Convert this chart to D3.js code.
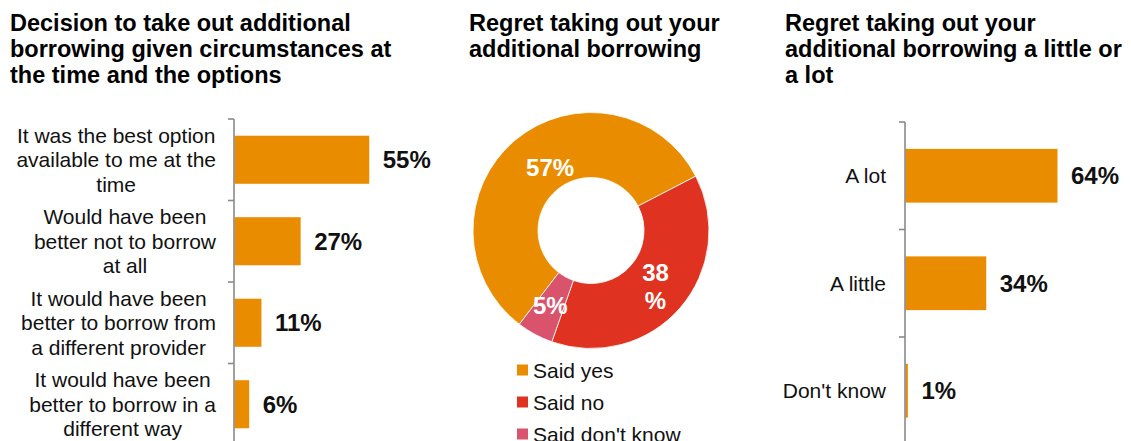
<!DOCTYPE html>
<html>
<head>
<meta charset="utf-8">
<script src="https://cdn.jsdelivr.net/npm/d3@7"></script>
<style>
  html, body { margin: 0; padding: 0; background: #ffffff; }
  svg { display: block; font-family: "Liberation Sans", Arial, sans-serif; }
</style>
</head>
<body>
<svg id="chart" width="1131" height="441"></svg>
<script>
// ---- Data ----
const decisionCategories = [
  "It was the best option\navailable to me at the\ntime",
  "Would have been\nbetter not to borrow\nat all",
  "It would have been\nbetter to borrow from\na different provider",
  "It would have been\nbetter to borrow in a\ndifferent way"
];
const decisionValues = [55, 27, 11, 6];

const regretCategories = ["Said yes", "Said no", "Said don't know"];
const regretValues = [57, 38, 5];
const regretLabels = ["57%", "38\n%", "5%"];

const degreeCategories = ["A lot", "A little", "Don't know"];
const degreeValues = [64, 34, 1];

const titles = [
  "Decision to take out additional\nborrowing given circumstances at\nthe time and the options",
  "Regret taking out your\nadditional borrowing",
  "Regret taking out your\nadditional borrowing a little or\na lot"
];

// ---- Styling ----
const ORANGE = "#EA8C00";
const RED = "#DF3220";
const PINK = "#D9536C";
const AXIS = "#8a8a8a";
const TEXT = "#111111";

const svg = d3.select("#chart");

// Multi-line text helper
function multiline(sel, text, lineH) {
  text.split("\n").forEach((ln, i) => {
    sel.append("tspan").attr("x", sel.attr("x")).attr("dy", i === 0 ? 0 : lineH).text(ln);
  });
}

// ---- Panel titles ----
const titleX = [10, 469, 785];
titles.forEach((t, i) => {
  const el = svg.append("text")
    .attr("x", titleX[i]).attr("y", 31)
    .attr("font-size", 23.5).attr("font-weight", "bold").attr("fill", "#000");
  multiline(el, t, 25.8);
});

// ---- Horizontal bar panel (generic) ----
function barPanel(opts) {
  const { cats, vals, top, bottom, axisX, pxPerPct, pad, labelRight, lineH, align } = opts;
  const g = svg.append("g");
  const yBand = d3.scaleBand().domain(cats).range([top, bottom])
    .paddingInner(pad).paddingOuter(pad / 2);
  const yCell = d3.scaleBand().domain(cats).range([top, bottom]).padding(0);
  const x = d3.scaleLinear().domain([0, 100]).range([axisX, axisX + pxPerPct * 100]);

  // bars
  g.selectAll("rect.bar").data(vals).join("rect")
    .attr("class", "bar")
    .attr("x", x(0) + 0.5)
    .attr("y", (d, i) => yBand(cats[i]))
    .attr("width", d => Math.max(0, x(d) - x(0)))
    .attr("height", yBand.bandwidth())
    .attr("fill", ORANGE);

  // axis line and between-category tick marks
  g.append("line")
    .attr("x1", axisX).attr("x2", axisX)
    .attr("y1", top).attr("y2", 460)
    .attr("stroke", AXIS).attr("stroke-width", 1.6);
  const ticks = cats.map(c => yCell(c)).concat([bottom]);
  g.selectAll("line.tick").data(ticks).join("line")
    .attr("class", "tick")
    .attr("x1", axisX - 6).attr("x2", axisX)
    .attr("y1", d => d).attr("y2", d => d)
    .attr("stroke", AXIS).attr("stroke-width", 1.6);

  // value labels
  g.selectAll("text.val").data(vals).join("text")
    .attr("class", "val")
    .attr("x", d => x(d) + 14)
    .attr("y", (d, i) => yCell(cats[i]) + yCell.bandwidth() / 2 + 8.5)
    .attr("font-size", 24).attr("font-weight", "bold").attr("fill", TEXT)
    .text(d => d + "%");

  // category labels
  cats.forEach(c => {
    const lines = c.split("\n");
    const cy = yCell(c) + yCell.bandwidth() / 2;
    const y0 = cy - (lines.length - 1) * lineH / 2 + 7.5;
    const t = g.append("text").attr("font-size", 21).attr("fill", TEXT);
    const spans = lines.map((ln, i) => t.append("tspan").attr("y", y0 + i * lineH).text(ln));
    if (align === "center") {
      const widths = spans.map(s => s.node().getComputedTextLength());
      const maxW = d3.max(widths);
      const cx = labelRight - maxW / 2;
      spans.forEach(s => s.attr("x", cx).attr("text-anchor", "middle"));
    } else {
      spans.forEach(s => s.attr("x", labelRight).attr("text-anchor", "end"));
    }
  });
}

barPanel({
  cats: decisionCategories, vals: decisionValues,
  top: 119, bottom: 445, axisX: 234, pxPerPct: 2.45, pad: 0.41,
  labelRight: 216, lineH: 24.5, align: "center"
});

barPanel({
  cats: degreeCategories, vals: degreeValues,
  top: 122, bottom: 444.5, axisX: 905, pxPerPct: 2.375, pad: 0.5,
  labelRight: 886, lineH: 24.5, align: "end"
});

// ---- Donut ----
const cx = 591, cy = 230.5, rOuter = 118, rInner = 53;
const start = -142.6 * Math.PI / 180;
const pie = d3.pie().sort(null).startAngle(start).endAngle(start + 2 * Math.PI);
const arcs = pie(regretValues);
const arc = d3.arc().innerRadius(rInner).outerRadius(rOuter);
const colors = d3.scaleOrdinal().domain(regretCategories).range([ORANGE, RED, PINK]);

const dg = svg.append("g").attr("transform", `translate(${cx},${cy})`);
dg.selectAll("path").data(arcs).join("path")
  .attr("d", arc)
  .attr("fill", (d, i) => colors(regretCategories[i]))
  .attr("stroke", "#ffffff").attr("stroke-width", 0.8);

// slice labels; the large slice's label sits a little nearer the top
const labelShift = [[14, 2], [0, 0], [0, 0]];
arcs.forEach((a, i) => {
  const [px, py] = arc.centroid(a);
  const lines = regretLabels[i].split("\n");
  const t = dg.append("text")
    .attr("text-anchor", "middle")
    .attr("font-size", 24).attr("font-weight", "bold").attr("fill", "#ffffff");
  const lh = 28;
  const lx = px + labelShift[i][0];
  const y0 = py + labelShift[i][1] - (lines.length - 1) * lh / 2 + 8.5;
  lines.forEach((ln, j) => t.append("tspan").attr("x", lx).attr("y", y0 + j * lh).text(ln));
});

// legend
const lg = svg.append("g");
regretCategories.forEach((c, i) => {
  const y = 370 + i * 32;
  lg.append("rect").attr("x", 517).attr("y", y - 5.5).attr("width", 11).attr("height", 11)
    .attr("fill", colors(c));
  lg.append("text").attr("x", 533).attr("y", y + 7.5)
    .attr("font-size", 21).attr("fill", TEXT).text(c);
});
</script>
</body>
</html>
